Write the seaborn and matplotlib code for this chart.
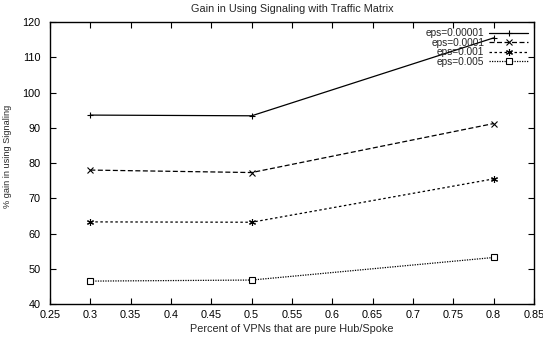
import matplotlib
matplotlib.use("Agg")
import matplotlib.pyplot as plt
import seaborn as sns
import pandas as pd
from matplotlib.ticker import MultipleLocator, FuncFormatter

# Data: percent of hub/spoke VPNs vs. gain from signaling
x_vals = [0.3, 0.5, 0.8]
gain_eps_00001 = [93.6, 93.4, 115.5]
gain_eps_0001 = [78.0, 77.3, 91.2]
gain_eps_001 = [63.3, 63.2, 75.5]
gain_eps_005 = [46.5, 46.8, 53.2]
series_labels = ["eps=0.00001", "eps=0.0001", "eps=0.001", "eps=0.005"]

sns.set_theme(style="ticks")
plt.rcParams["font.family"] = ["Liberation Sans", "DejaVu Sans"]

fig = plt.figure(figsize=(5.43, 3.39), dpi=100)
ax = fig.add_axes([0.0921, 0.1032, 0.8913, 0.8318])

styles = [
    dict(linestyle="-", marker="+", markersize=5, markerfacecolor="black"),
    dict(linestyle=(0, (4, 2)), marker="x", markersize=4, markerfacecolor="black"),
    dict(linestyle=(0, (2, 2)), marker=(6, 2, 0), markersize=5, markerfacecolor="black"),
    dict(linestyle=(0, (1, 1)), marker="s", markersize=4, markerfacecolor="white"),
]
series = [gain_eps_00001, gain_eps_0001, gain_eps_001, gain_eps_005]

for lbl, ys, st in zip(series_labels, series, styles):
    df = pd.DataFrame({"x": x_vals, "y": ys})
    sns.lineplot(data=df, x="x", y="y", ax=ax, color="black", linewidth=0.9,
                 markeredgecolor="black", markeredgewidth=0.8, label=lbl, **st)

ax.set_xlim(0.25, 0.85)
ax.set_ylim(40, 120)
ax.xaxis.set_major_locator(MultipleLocator(0.05))
ax.yaxis.set_major_locator(MultipleLocator(10))
ax.xaxis.set_major_formatter(FuncFormatter(lambda v, p: f"{v:.2f}".rstrip("0").rstrip(".")))
ax.tick_params(direction="in", length=4, width=0.8, labelsize=7.8, top=True, right=True,
               colors="black")
ax.tick_params(axis="x", pad=4.5)
ax.tick_params(axis="y", pad=7.0)
for s in ax.spines.values():
    s.set_linewidth(1.0)
    s.set_color("black")

ax.set_xlabel("Percent of VPNs that are pure Hub/Spoke", fontsize=7.8, labelpad=3)
ax.set_ylabel("% gain in using Signaling", fontsize=6.6)
ax.yaxis.set_label_coords(-0.078, 0.525)
ax.set_title("Gain in Using Signaling with Traffic Matrix", fontsize=7.8, pad=7)

leg = ax.legend(loc="upper right", frameon=False, markerfirst=False, fontsize=7.3,
                handlelength=3.8, handletextpad=0.5, labelspacing=-0.05,
                borderaxespad=0.3, borderpad=0.3, alignment="right")
for t in leg.get_texts():
    t.set_ha("right")

fig.savefig("out.png", dpi=100, facecolor="white")
